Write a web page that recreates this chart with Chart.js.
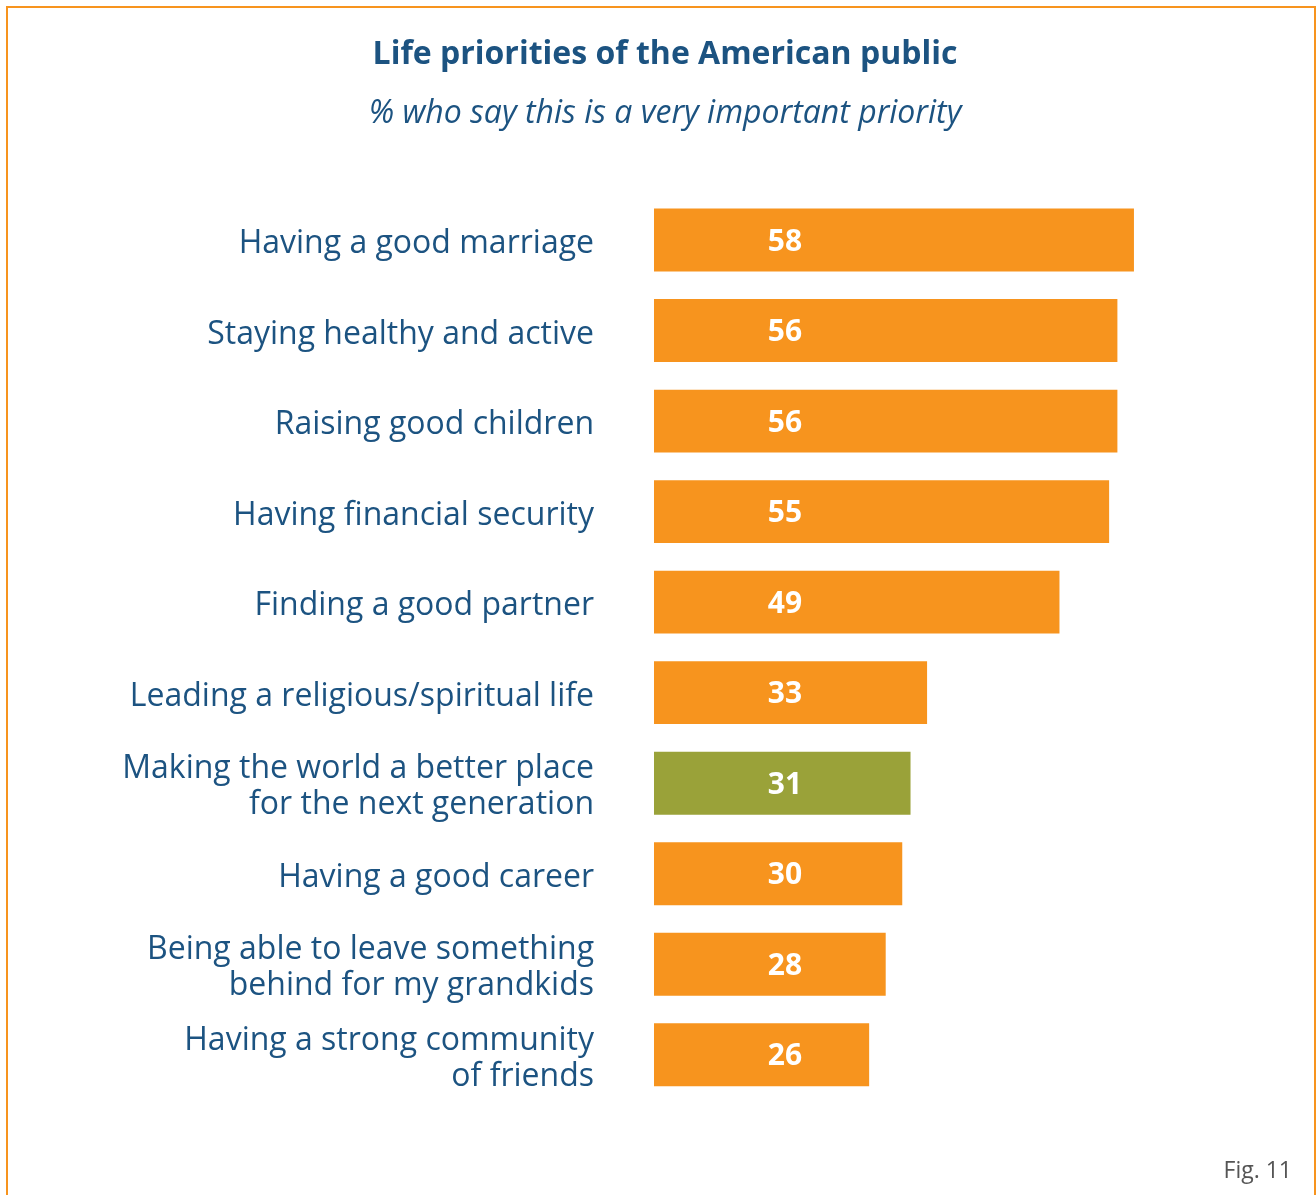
<!DOCTYPE html>
<html>
<head>
<meta charset="utf-8">
<script src="https://cdn.jsdelivr.net/npm/chart.js@4"></script>
<style>
  body { margin: 0; background: #fff; }
  .wrap { position: relative; width: 1316px; height: 1195px; }
  .frame {
    position: absolute; left: 6px; top: 6px; width: 1306px; height: 1200px;
    border: 2px solid #F7941E; pointer-events: none;
  }
  .fig {
    position: absolute; right: 24px; top: 1153px;
    font: 23px "Open Sans", sans-serif; color: #555;
  }
</style>
</head>
<body>
<div class="wrap">
  <canvas id="chart" width="1316" height="1195"></canvas>
  <div class="frame"></div>
  <div class="fig">Fig. 11</div>
</div>
<script>
// Ranked priorities
const labels = [
  'Having a good marriage',
  'Staying healthy and active',
  'Raising good children',
  'Having financial security',
  'Finding a good partner',
  'Leading a religious/spiritual life',
  ['Making the world a better place', 'for the next generation'],
  'Having a good career',
  ['Being able to leave something', 'behind for my grandkids'],
  ['Having a strong community', 'of friends']
];
const values = [58, 56, 56, 55, 49, 33, 31, 30, 28, 26];
const highlight = 6; // the one bar drawn in green

const ORANGE = '#F7941E';
const GREEN = '#9AA239';
const BLUE = '#1C5381';

const barColors = values.map((v, i) => i === highlight ? GREEN : ORANGE);

// white value inside each bar, at a fixed spot from the bar start
const valueLabels = {
  id: 'valueLabels',
  afterDatasetsDraw(chart) {
    const ctx = chart.ctx;
    const meta = chart.getDatasetMeta(0);
    const x0 = chart.scales.x.getPixelForValue(0);
    ctx.save();
    ctx.fillStyle = '#fff';
    ctx.font = 'bold 30px "Open Sans", sans-serif';
    ctx.textAlign = 'center';
    ctx.textBaseline = 'middle';
    meta.data.forEach((bar, i) => {
      ctx.fillText(values[i], x0 + 131, bar.y + 2);
    });
    ctx.restore();
  }
};

const ctx = document.getElementById('chart').getContext('2d');
const chart = new Chart(ctx, {
  type: 'bar',
  data: {
    labels: labels,
    datasets: [{
      data: values,
      backgroundColor: barColors,
      borderWidth: 0,
      categoryPercentage: 1,
      barPercentage: 0.695
    }]
  },
  options: {
    indexAxis: 'y',
    responsive: false,
    animation: false,
    layout: { padding: { left: 14, right: 0, top: 0, bottom: 95 } },
    plugins: {
      legend: { display: false },
      tooltip: { enabled: false },
      title: {
        display: true,
        text: 'Life priorities of the American public',
        color: BLUE,
        font: { family: 'Open Sans', size: 32, weight: 'bold' },
        padding: { top: 36, bottom: 12 }
      },
      subtitle: {
        display: true,
        text: '% who say this is a very important priority',
        color: BLUE,
        font: { family: 'Open Sans', size: 32, style: 'italic' },
        padding: { top: 8, bottom: 62 }
      }
    },
    scales: {
      x: {
        display: false,
        min: 0,
        max: 80
      },
      y: {
        grid: { display: false, drawTicks: false },
        border: { display: false },
        afterFit(scale) { scale.width = 640; },
        ticks: {
          color: BLUE,
          padding: 60,
          labelOffset: 4,
          font: { family: 'Open Sans', size: 32, lineHeight: 1.13 }
        }
      }
    }
  },
  plugins: [valueLabels]
});
</script>
</body>
</html>
